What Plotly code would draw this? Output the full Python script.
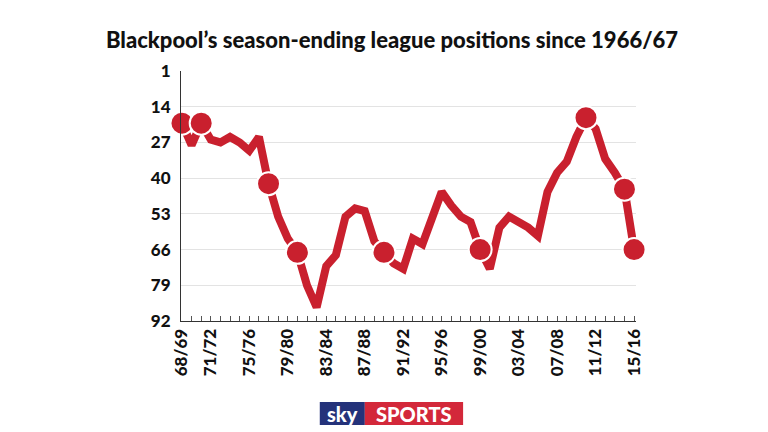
import plotly.graph_objects as go

seasons = ["68/69","69/70","70/71","71/72","72/73","73/74","74/75","75/76","76/77","77/78",
           "78/79","79/80","80/81","81/82","82/83","83/84","84/85","85/86","86/87","87/88",
           "88/89","89/90","90/91","91/92","92/93","93/94","94/95","95/96","96/97","97/98",
           "98/99","99/00","00/01","01/02","02/03","03/04","04/05","05/06","06/07","07/08",
           "08/09","09/10","10/11","11/12","12/13","13/14","14/15","15/16"]
positions = [20,28,20,26,27,25,27,30,25,42,54,62,67,79,87,72,68,54,51,52,63,67,71,73,
             62,64,54,45,50,54,56,66,73,58,54,56,58,61,45,38,34,25,18,22,33,38,44,66]
marker_idx = [0,2,9,12,21,31,42,46,47]
tick_labels = ["68/69","71/72","75/76","79/80","83/84","87/88","91/92","95/96","99/00","03/04","07/08","11/12","15/16"]
tick_idx = [0,3,7,11,15,19,23,27,31,35,39,43,47]
y_ticks = [1,14,27,40,53,66,79,92]

RED = "#c9202e"
x = list(range(len(seasons)))
fig = go.Figure()
fig.add_trace(go.Scatter(x=x, y=positions, mode="lines", line=dict(color=RED, width=8),
                         cliponaxis=False, hoverinfo="skip"))
fig.add_trace(go.Scatter(x=marker_idx, y=[positions[i] for i in marker_idx], mode="markers",
                         marker=dict(color=RED, size=23, line=dict(color="white", width=2)),
                         cliponaxis=False))
font = "Lato"
fig.update_layout(
    width=768, height=432, showlegend=False,
    margin=dict(l=173, r=140, t=63, b=119, autoexpand=False),
    plot_bgcolor="white", paper_bgcolor="white",
    title=dict(text="Blackpool’s season-ending league positions since 1966/67",
               x=0.5, xanchor="center", y=0.925, yanchor="middle",
               font=dict(family=font, size=22, color="#111", weight=900)),
    xaxis=dict(range=[-0.1, 47.2], tickmode="array", tickvals=tick_idx, ticktext=tick_labels,
               tickangle=-90, tickfont=dict(family=font, size=17, color="#111", weight=900),
               showgrid=False, zeroline=False, showline=True, linecolor="#333", linewidth=1,
               ticks="inside", ticklen=5, tickcolor="#555", automargin=False,
               minor=dict(tickmode="linear", tick0=0, dtick=1, ticks="inside",
                          ticklen=5, tickcolor="#555", showgrid=False, gridcolor="rgba(0,0,0,0)")),
    yaxis=dict(range=[92, 1], tickmode="array", tickvals=y_ticks, automargin=False,
               tickfont=dict(family=font, size=17, color="#111", weight=900),
               showgrid=True, gridcolor="#e3e3e3", gridwidth=1, zeroline=False,
               showline=True, linecolor="#333", linewidth=1, ticks="", ticklabelstandoff=6),
    shapes=[
        dict(type="rect", xref="paper", yref="paper", x0=0.305, x1=0.404, y0=-0.416, y1=-0.324,
             fillcolor="#24327a", line=dict(width=0), layer="below"),
        dict(type="rect", xref="paper", yref="paper", x0=0.404, x1=0.62, y0=-0.416, y1=-0.324,
             fillcolor="#d3283a", line=dict(width=0), layer="below"),
    ],
    annotations=[
        dict(text="sky", xref="paper", yref="paper", x=0.3545, y=-0.37, showarrow=False,
             yanchor="middle", font=dict(family=font, size=20, color="white", weight=900)),
        dict(text="SPORTS", xref="paper", yref="paper", x=0.512, y=-0.37, showarrow=False,
             yanchor="middle", font=dict(family=font, size=20, color="white", weight=900)),
    ],
)
fig.write_html("out.html")
